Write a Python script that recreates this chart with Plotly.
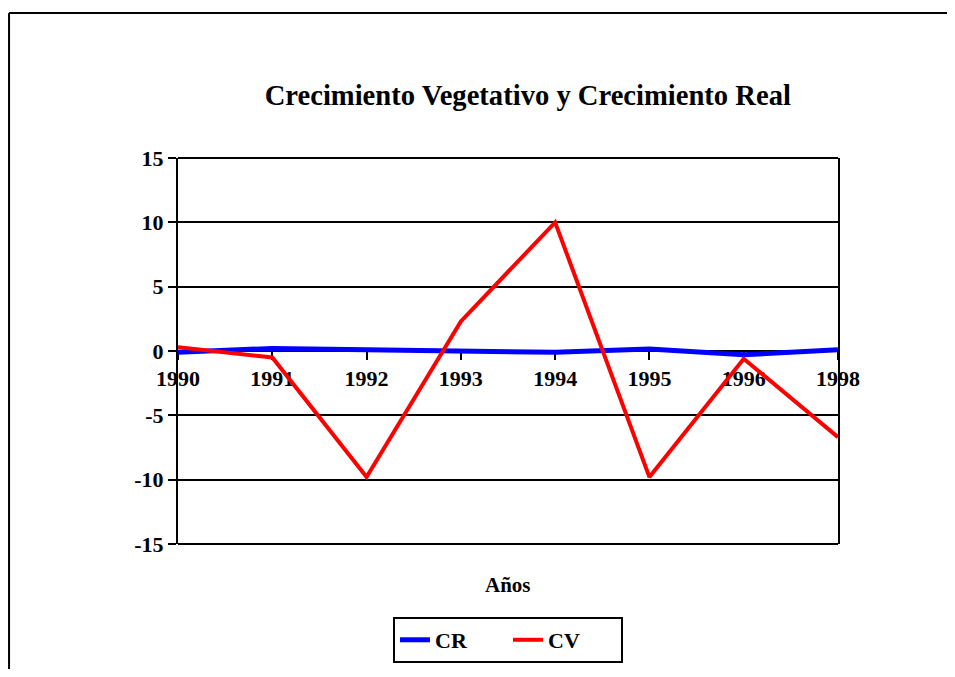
import plotly.graph_objects as go

years = ["1990", "1991", "1992", "1993", "1994", "1995", "1996", "1998"]
cr = [-0.1, 0.2, 0.1, 0.0, -0.1, 0.15, -0.3, 0.1]
cv = [0.3, -0.5, -9.8, 2.3, 10.0, -9.8, -0.6, -6.7]
y_ticks = [-15, -10, -5, 0, 5, 10, 15]
y_tick_text = ["-15", "-10", "-5", "0", "5", "10", "15"]

font_family = "Liberation Serif, Times New Roman, serif"

fig = go.Figure()

fig.add_trace(go.Scatter(
    x=years,
    y=cr,
    mode="lines",
    line=dict(color="#0000FF", width=5),
    name="CR"
))

fig.add_trace(go.Scatter(
    x=years,
    y=cv,
    mode="lines",
    line=dict(color="#FF0000", width=4),
    name="CV"
))

# top and bottom edges of the plot frame
for yd in (0, 1):
    fig.add_shape(type="line", xref="x domain", yref="y domain",
                  x0=0, x1=1, y0=yd, y1=yd,
                  line=dict(color="black", width=2))

# outer chart border (only left and top edges visible)
fig.add_shape(type="line", xref="paper", yref="paper",
              x0=-0.256, x1=1.3, y0=1.3756, y1=1.3756,
              line=dict(color="black", width=2))
fig.add_shape(type="line", xref="paper", yref="paper",
              x0=-0.256, x1=-0.256, y0=1.3756, y1=-0.5,
              line=dict(color="black", width=2))

fig.add_annotation(
    text="Años", xref="paper", yref="paper",
    x=0.5, y=-0.106, xanchor="center", yanchor="middle",
    showarrow=False,
    font=dict(family=font_family, size=21, color="black", weight="bold")
)

fig.update_layout(
    width=939,
    height=661,
    margin=dict(l=170, r=109, t=150, b=125, autoexpand=False),
    paper_bgcolor="white",
    plot_bgcolor="white",
    font=dict(family=font_family, color="black", weight="bold"),
    title=dict(
        text="Crecimiento Vegetativo y Crecimiento Real",
        x=0.53, xref="paper", xanchor="center",
        y=0.868, yref="container", yanchor="middle",
        font=dict(family=font_family, size=28.6, color="black", weight="bold")
    ),
    xaxis=dict(
        type="category",
        range=[0, 7],
        anchor="free",
        position=0.5,
        layer="below traces",
        showline=True,
        linecolor="black",
        linewidth=2,
        ticks="outside",
        ticklen=8,
        tickwidth=2,
        tickcolor="black",
        showgrid=False,
        zeroline=False,
        tickfont=dict(family=font_family, size=22, color="black", weight="bold")
    ),
    yaxis=dict(
        range=[-15, 15],
        tickvals=y_ticks,
        ticktext=y_tick_text,
        layer="below traces",
        showgrid=True,
        gridcolor="black",
        gridwidth=2,
        zeroline=False,
        showline=True,
        mirror=True,
        linecolor="black",
        linewidth=2,
        ticks="outside",
        ticklen=8,
        tickwidth=2,
        tickcolor="black",
        tickfont=dict(family=font_family, size=22, color="black", weight="bold")
    ),
    legend=dict(
        orientation="h",
        x=0.5, xanchor="center",
        y=0.0787, yref="container", yanchor="top",
        entrywidth=68,
        bordercolor="black",
        borderwidth=2,
        font=dict(family=font_family, size=22, color="black", weight="bold")
    ),
    showlegend=True
)

fig.write_html("out.html")
